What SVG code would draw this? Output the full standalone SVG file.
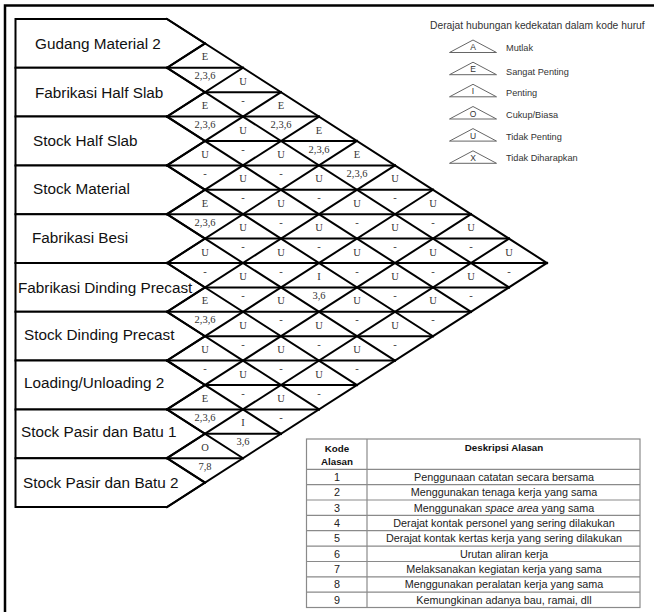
<svg xmlns="http://www.w3.org/2000/svg" width="654" height="612" viewBox="0 0 654 612">
  <style>
    .box{fill:#fff;stroke:#000;stroke-width:2;stroke-linejoin:miter}
    .name{font-family:"Liberation Sans",Arial,sans-serif;font-size:15.3px;fill:#111}
    #grid line{stroke:#000;stroke-width:2;stroke-linecap:square}
    .c{font-family:"Liberation Serif","Times New Roman",serif;font-size:10.5px;fill:#333;text-anchor:middle}
    .lg{font-family:"Liberation Sans",Arial,sans-serif;fill:#333}
    .tri{fill:#fff;stroke:#666;stroke-width:1}
    .tb line,.tb rect{stroke:#8a8a8a;stroke-width:1.2;fill:none}
    .th{font-family:"Liberation Sans",Arial,sans-serif;font-size:9.8px;font-weight:bold;fill:#111;text-anchor:middle}
    .td{font-family:"Liberation Sans",Arial,sans-serif;font-size:10.8px;fill:#222;text-anchor:middle}
  </style>

  <rect width="654" height="612" fill="#fff"/>
  <!-- outer frame -->
  <path d="M5,612 V5.5 H654" fill="none" stroke="#000" stroke-width="2.5"/>

  <!-- department boxes -->
  <g id="dept-0"><path class="box" d="M15.5,19 H167 L205,43.4 L167,67.8 H15.5 Z"/><text class="name" x="35" y="49">Gudang Material 2</text></g>
  <g id="dept-1"><path class="box" d="M15.5,67.8 H167 L205,92.2 L167,116.6 H15.5 Z"/><text class="name" x="35" y="98">Fabrikasi Half Slab</text></g>
  <g id="dept-2"><path class="box" d="M15.5,116.6 H167 L205,141 L167,165.4 H15.5 Z"/><text class="name" x="33" y="146">Stock Half Slab</text></g>
  <g id="dept-3"><path class="box" d="M15.5,165.4 H167 L205,189.8 L167,214.2 H15.5 Z"/><text class="name" x="33" y="194">Stock Material</text></g>
  <g id="dept-4"><path class="box" d="M15.5,214.2 H167 L205,238.6 L167,263 H15.5 Z"/><text class="name" x="32" y="243">Fabrikasi Besi</text></g>
  <g id="dept-5"><path class="box" d="M15.5,263 H167 L205,287.4 L167,311.8 H15.5 Z"/><text class="name" x="18" y="292.5">Fabrikasi Dinding Precast</text></g>
  <g id="dept-6"><path class="box" d="M15.5,311.8 H167 L205,336.2 L167,360.6 H15.5 Z"/><text class="name" x="24" y="339.5">Stock Dinding Precast</text></g>
  <g id="dept-7"><path class="box" d="M15.5,360.6 H167 L205,385 L167,409.4 H15.5 Z"/><text class="name" x="24" y="387.5">Loading/Unloading 2</text></g>
  <g id="dept-8"><path class="box" d="M15.5,409.4 H167 L205,433.8 L167,458.2 H15.5 Z"/><text class="name" x="21" y="437">Stock Pasir dan Batu 1</text></g>
  <g id="dept-9"><path class="box" d="M15.5,458.2 H167 L205,482.6 L167,507 H15.5 Z"/><text class="name" x="23" y="488.3">Stock Pasir dan Batu 2</text></g>

  <!-- relationship lattice -->
  <g id="grid">
    <!-- horizontal splits -->
    <line x1="167" y1="67.8" x2="243" y2="67.8"/>
    <line x1="205" y1="92.2" x2="281" y2="92.2"/>
    <line x1="167" y1="116.6" x2="319" y2="116.6"/>
    <line x1="205" y1="141" x2="357" y2="141"/>
    <line x1="167" y1="165.4" x2="395" y2="165.4"/>
    <line x1="205" y1="189.8" x2="433" y2="189.8"/>
    <line x1="167" y1="214.2" x2="471" y2="214.2"/>
    <line x1="205" y1="238.6" x2="509" y2="238.6"/>
    <line x1="167" y1="263" x2="547" y2="263"/>
    <line x1="205" y1="287.4" x2="509" y2="287.4"/>
    <line x1="167" y1="311.8" x2="471" y2="311.8"/>
    <line x1="205" y1="336.2" x2="433" y2="336.2"/>
    <line x1="167" y1="360.6" x2="395" y2="360.6"/>
    <line x1="205" y1="385" x2="357" y2="385"/>
    <line x1="167" y1="409.4" x2="319" y2="409.4"/>
    <line x1="205" y1="433.8" x2="281" y2="433.8"/>
    <line x1="167" y1="458.2" x2="243" y2="458.2"/>
    <!-- down-right diagonals -->
    <line x1="167" y1="19" x2="547" y2="263"/>
    <line x1="167" y1="67.8" x2="509" y2="287.4"/>
    <line x1="167" y1="116.6" x2="471" y2="311.8"/>
    <line x1="167" y1="165.4" x2="433" y2="336.2"/>
    <line x1="167" y1="214.2" x2="395" y2="360.6"/>
    <line x1="167" y1="263" x2="357" y2="385"/>
    <line x1="167" y1="311.8" x2="319" y2="409.4"/>
    <line x1="167" y1="360.6" x2="281" y2="433.8"/>
    <line x1="167" y1="409.4" x2="243" y2="458.2"/>
    <line x1="167" y1="458.2" x2="205" y2="482.6"/>
    <!-- up-right diagonals -->
    <line x1="167" y1="67.8" x2="205" y2="43.4"/>
    <line x1="167" y1="116.6" x2="243" y2="67.8"/>
    <line x1="167" y1="165.4" x2="281" y2="92.2"/>
    <line x1="167" y1="214.2" x2="319" y2="116.6"/>
    <line x1="167" y1="263" x2="357" y2="141"/>
    <line x1="167" y1="311.8" x2="395" y2="165.4"/>
    <line x1="167" y1="360.6" x2="433" y2="189.8"/>
    <line x1="167" y1="409.4" x2="471" y2="214.2"/>
    <line x1="167" y1="458.2" x2="509" y2="238.6"/>
    <line x1="167" y1="507" x2="547" y2="263"/>
  </g>

  <!-- closeness codes (upper) and reasons (lower) -->
  <g id="rel-0-1"><text class="c" x="205" y="60.3">E</text><text class="c" x="205" y="79.3">2,3,6</text></g>
  <g id="rel-0-2"><text class="c" x="243" y="84.7">U</text><text class="c" x="243" y="103.7">-</text></g>
  <g id="rel-0-3"><text class="c" x="281" y="109.1">E</text><text class="c" x="281" y="128.1">2,3,6</text></g>
  <g id="rel-0-4"><text class="c" x="319" y="133.5">E</text><text class="c" x="319" y="152.5">2,3,6</text></g>
  <g id="rel-0-5"><text class="c" x="357" y="157.9">E</text><text class="c" x="357" y="176.9">2,3,6</text></g>
  <g id="rel-0-6"><text class="c" x="395" y="182.3">U</text><text class="c" x="395" y="201.3">-</text></g>
  <g id="rel-0-7"><text class="c" x="433" y="206.7">U</text><text class="c" x="433" y="225.7">-</text></g>
  <g id="rel-0-8"><text class="c" x="471" y="231.1">U</text><text class="c" x="471" y="250.1">-</text></g>
  <g id="rel-0-9"><text class="c" x="509" y="255.5">U</text><text class="c" x="509" y="274.5">-</text></g>
  <g id="rel-1-2"><text class="c" x="205" y="109.1">E</text><text class="c" x="205" y="128.1">2,3,6</text></g>
  <g id="rel-1-3"><text class="c" x="243" y="133.5">U</text><text class="c" x="243" y="152.5">-</text></g>
  <g id="rel-1-4"><text class="c" x="281" y="157.9">U</text><text class="c" x="281" y="176.9">-</text></g>
  <g id="rel-1-5"><text class="c" x="319" y="182.3">U</text><text class="c" x="319" y="201.3">-</text></g>
  <g id="rel-1-6"><text class="c" x="357" y="206.7">U</text><text class="c" x="357" y="225.7">-</text></g>
  <g id="rel-1-7"><text class="c" x="395" y="231.1">U</text><text class="c" x="395" y="250.1">-</text></g>
  <g id="rel-1-8"><text class="c" x="433" y="255.5">U</text><text class="c" x="433" y="274.5">-</text></g>
  <g id="rel-1-9"><text class="c" x="471" y="279.9">U</text><text class="c" x="471" y="298.9">-</text></g>
  <g id="rel-2-3"><text class="c" x="205" y="157.9">U</text><text class="c" x="205" y="176.9">-</text></g>
  <g id="rel-2-4"><text class="c" x="243" y="182.3">U</text><text class="c" x="243" y="201.3">-</text></g>
  <g id="rel-2-5"><text class="c" x="281" y="206.7">U</text><text class="c" x="281" y="225.7">-</text></g>
  <g id="rel-2-6"><text class="c" x="319" y="231.1">U</text><text class="c" x="319" y="250.1">-</text></g>
  <g id="rel-2-7"><text class="c" x="357" y="255.5">U</text><text class="c" x="357" y="274.5">-</text></g>
  <g id="rel-2-8"><text class="c" x="395" y="279.9">U</text><text class="c" x="395" y="298.9">-</text></g>
  <g id="rel-2-9"><text class="c" x="433" y="304.3">U</text><text class="c" x="433" y="323.3">-</text></g>
  <g id="rel-3-4"><text class="c" x="205" y="206.7">E</text><text class="c" x="205" y="225.7">2,3,6</text></g>
  <g id="rel-3-5"><text class="c" x="243" y="231.1">U</text><text class="c" x="243" y="250.1">-</text></g>
  <g id="rel-3-6"><text class="c" x="281" y="255.5">U</text><text class="c" x="281" y="274.5">-</text></g>
  <g id="rel-3-7"><text class="c" x="319" y="279.9">I</text><text class="c" x="319" y="298.9">3,6</text></g>
  <g id="rel-3-8"><text class="c" x="357" y="304.3">U</text><text class="c" x="357" y="323.3">-</text></g>
  <g id="rel-3-9"><text class="c" x="395" y="328.7">U</text><text class="c" x="395" y="347.7">-</text></g>
  <g id="rel-4-5"><text class="c" x="205" y="255.5">U</text><text class="c" x="205" y="274.5">-</text></g>
  <g id="rel-4-6"><text class="c" x="243" y="279.9">U</text><text class="c" x="243" y="298.9">-</text></g>
  <g id="rel-4-7"><text class="c" x="281" y="304.3">U</text><text class="c" x="281" y="323.3">-</text></g>
  <g id="rel-4-8"><text class="c" x="319" y="328.7">U</text><text class="c" x="319" y="347.7">-</text></g>
  <g id="rel-4-9"><text class="c" x="357" y="353.1">U</text><text class="c" x="357" y="372.1">-</text></g>
  <g id="rel-5-6"><text class="c" x="205" y="304.3">E</text><text class="c" x="205" y="323.3">2,3,6</text></g>
  <g id="rel-5-7"><text class="c" x="243" y="328.7">U</text><text class="c" x="243" y="347.7">-</text></g>
  <g id="rel-5-8"><text class="c" x="281" y="353.1">U</text><text class="c" x="281" y="372.1">-</text></g>
  <g id="rel-5-9"><text class="c" x="319" y="377.5">U</text><text class="c" x="319" y="396.5">-</text></g>
  <g id="rel-6-7"><text class="c" x="205" y="353.1">U</text><text class="c" x="205" y="372.1">-</text></g>
  <g id="rel-6-8"><text class="c" x="243" y="377.5">U</text><text class="c" x="243" y="396.5">-</text></g>
  <g id="rel-6-9"><text class="c" x="281" y="401.9">U</text><text class="c" x="281" y="420.9">-</text></g>
  <g id="rel-7-8"><text class="c" x="205" y="401.9">E</text><text class="c" x="205" y="420.9">2,3,6</text></g>
  <g id="rel-7-9"><text class="c" x="243" y="426.3">I</text><text class="c" x="243" y="445.3">3,6</text></g>
  <g id="rel-8-9"><text class="c" x="205" y="450.7">O</text><text class="c" x="205" y="469.7">7,8</text></g>

  <!-- legend of closeness codes -->
  <g id="legend">
    <text class="lg" x="430" y="28.5" font-size="10.3">Derajat hubungan kedekatan dalam kode huruf</text>
    <g font-size="8.5" text-anchor="middle" class="lg">
      <polygon class="tri" points="449.5,52.5 473,40 496.5,52.5"/><text x="473" y="50">A</text>
      <polygon class="tri" points="449.5,74.7 473,62.2 496.5,74.7"/><text x="473" y="72.2">E</text>
      <polygon class="tri" points="449.5,96.8 473,84.3 496.5,96.8"/><text x="473" y="94.3">I</text>
      <polygon class="tri" points="449.5,119 473,106.5 496.5,119"/><text x="473" y="116.5">O</text>
      <polygon class="tri" points="449.5,141.1 473,128.6 496.5,141.1"/><text x="473" y="138.6">U</text>
      <polygon class="tri" points="449.5,163.3 473,150.8 496.5,163.3"/><text x="473" y="160.8">X</text>
    </g>
    <g font-size="9.2" class="lg">
      <text x="506" y="51.3">Mutlak</text>
      <text x="506" y="74.5">Sangat Penting</text>
      <text x="506" y="95.8">Penting</text>
      <text x="506" y="118">Cukup/Biasa</text>
      <text x="506" y="139.8">Tidak Penting</text>
      <text x="506" y="161.4">Tidak Diharapkan</text>
    </g>
  </g>

  <!-- reason code table -->
  <g id="reason-table">
    <g class="tb">
      <rect x="306.5" y="439" width="333.5" height="168.5"/>
      <line x1="367" y1="439" x2="367" y2="607.5"/>
      <line x1="306.5" y1="469.3" x2="640" y2="469.3"/>
      <line x1="306.5" y1="484.7" x2="640" y2="484.7"/>
      <line x1="306.5" y1="500" x2="640" y2="500"/>
      <line x1="306.5" y1="515.4" x2="640" y2="515.4"/>
      <line x1="306.5" y1="530.7" x2="640" y2="530.7"/>
      <line x1="306.5" y1="546.1" x2="640" y2="546.1"/>
      <line x1="306.5" y1="561.5" x2="640" y2="561.5"/>
      <line x1="306.5" y1="576.8" x2="640" y2="576.8"/>
      <line x1="306.5" y1="592.2" x2="640" y2="592.2"/>
    </g>
    <text class="th" x="337" y="452">Kode</text>
    <text class="th" x="337" y="465">Alasan</text>
    <text class="th" x="504" y="450.5">Deskripsi Alasan</text>
    <text class="td" x="337" y="480.9">1</text><text class="td" x="504" y="480.9">Penggunaan catatan secara bersama</text>
    <text class="td" x="337" y="496.2">2</text><text class="td" x="504" y="496.2">Menggunakan tenaga kerja yang sama</text>
    <text class="td" x="337" y="511.6">3</text><text class="td" x="504" y="511.6">Menggunakan <tspan font-style="italic">space area</tspan> yang sama</text>
    <text class="td" x="337" y="526.9">4</text><text class="td" x="504" y="526.9">Derajat kontak personel yang sering dilakukan</text>
    <text class="td" x="337" y="542.3">5</text><text class="td" x="504" y="542.3">Derajat kontak kertas kerja yang sering dilakukan</text>
    <text class="td" x="337" y="557.7">6</text><text class="td" x="504" y="557.7">Urutan aliran kerja</text>
    <text class="td" x="337" y="573">7</text><text class="td" x="504" y="573">Melaksanakan kegiatan kerja yang sama</text>
    <text class="td" x="337" y="588.4">8</text><text class="td" x="504" y="588.4">Menggunakan peralatan kerja yang sama</text>
    <text class="td" x="337" y="603.7">9</text><text class="td" x="504" y="603.7">Kemungkinan adanya bau, ramai, dll</text>
  </g>
</svg>
